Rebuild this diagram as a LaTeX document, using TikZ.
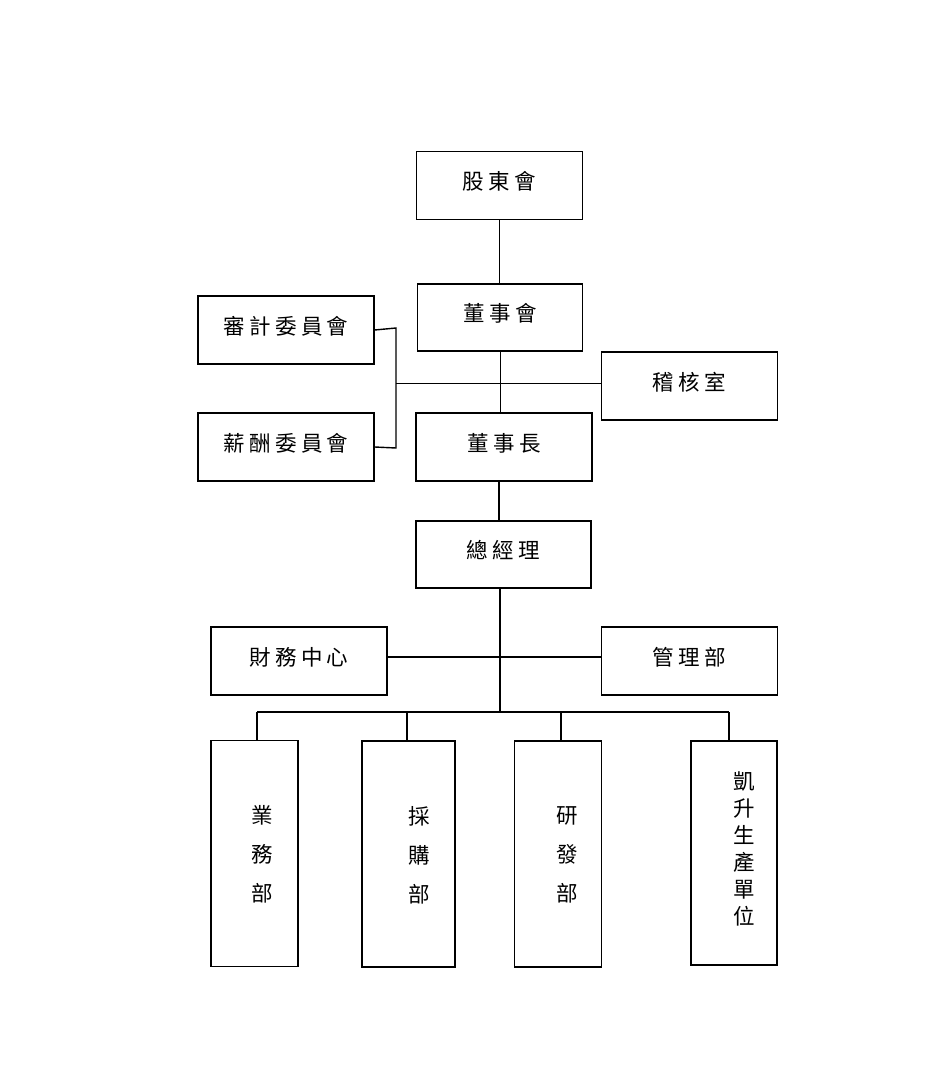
\documentclass[tikz,border=0pt]{standalone}
\usepackage{fontspec}
\newfontfamily\cjk[LetterSpace=20]{Noto Sans CJK TC}
\newfontfamily\cjkv{Noto Sans CJK TC}
\newcommand{\tx}[1]{\raisebox{4pt}[\height][\depth]{#1}}
\begin{document}
\begin{tikzpicture}[x=1pt,y=-1pt,
  box/.style={draw, line width=1.4pt, inner sep=0pt, font=\cjk\fontsize{21.5}{26}\selectfont},
  hbox/.style={box, minimum width=176pt, minimum height=68pt},
  vbox/.style={draw, line width=1.4pt, inner sep=0pt, minimum width=87pt, minimum height=226pt},
  vtext/.style={align=center, inner sep=0pt, font=\cjkv\fontsize{21.5}{26}\selectfont},
  conn/.style={line width=1.4pt}]
\useasboundingbox[fill=white] (0,0) rectangle (945,1086);
% top chain
\node[box, minimum width=166pt, minimum height=68pt] (gd) at (499.5,185.5) {\tx{股東會}};
\node[box, minimum width=165pt, minimum height=67pt] (bd) at (500,317.5) {\tx{董事會}};
\node[hbox] (audit) at (286,330) {\tx{審計委員會}};
\node[hbox] (comp) at (286,447) {\tx{薪酬委員會}};
\node[hbox] (insp) at (689.5,386) {\tx{稽核室}};
\node[hbox] (chair) at (504,447) {\tx{董事長}};
\node[box, minimum width=175pt, minimum height=67pt] (gm) at (503.5,554.5) {\tx{總經理}};
\node[hbox] (fin) at (299,661) {\tx{財務中心}};
\node[hbox] (mgmt) at (689.5,661) {\tx{管理部}};
% bottom departments
\node[vbox, minimum width=87pt] (sales) at (254.5,853.5) {};
\node[vbox, minimum width=93pt] (purch) at (408.5,854) {};
\node[vbox, minimum width=87pt] (rd) at (558,854) {};
\node[vbox, minimum width=86pt, minimum height=224pt] (prod) at (734,853) {};
\node[vtext] (salesT) at ([xshift=8pt,yshift=-1pt]sales.center) {業\\[13pt]務\\[13pt]部};
\node[vtext] (purchT) at ([xshift=11pt,yshift=-1pt]purch.center) {採\\[13pt]購\\[13pt]部};
\node[vtext] (rdT) at ([xshift=9pt,yshift=-1pt]rd.center) {研\\[13pt]發\\[13pt]部};
\node[vtext] (prodT) at ([xshift=10pt,yshift=4pt]prod.center) {凱\\[1pt]升\\[1pt]生\\[1pt]產\\[1pt]單\\[1pt]位};
% connectors
\draw[conn] (gd.south) -- (gd.south |- bd.north);
\coordinate (bdb) at (500.7,351);
\draw[conn] (bdb) -- (bdb |- chair.north);
\coordinate (brT) at (396,328);
\coordinate (brB) at (396,448);
\coordinate (brM) at (396,383.5);
\draw[conn] (audit.east) -- (brT) -- (brB) -- (comp.east);
\draw[conn] (brM) -- (brM -| insp.west);
\coordinate (chb) at (499,481);
\draw[conn] (chb) -- (chb |- gm.north);
\coordinate (gmb) at (500,588);
\coordinate (bus) at (500,712);
\draw[conn] (gmb) -- (bus);
\draw[conn] (fin.east |- 0,657) -- (mgmt.west |- 0,657);
\coordinate (busL) at (257,712);
\coordinate (busR) at (729,712);
\draw[conn] (busL) -- (busR);
\draw[conn] (busL) -- (busL |- sales.north);
\draw[conn] (407,712) -- (407,741);
\draw[conn] (561,712) -- (561,741);
\draw[conn] (busR) -- (busR |- prod.north);
\end{tikzpicture}
\end{document}
